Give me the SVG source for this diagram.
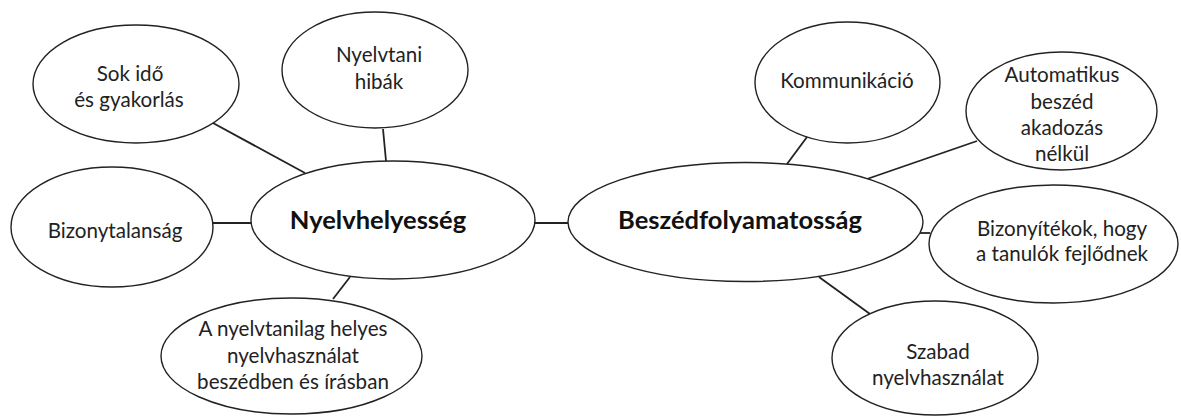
<svg xmlns="http://www.w3.org/2000/svg" width="1181" height="416" viewBox="0 0 1181 416">
  <style>
    .node { fill: #ffffff; stroke: #222222; stroke-width: 1.4; }
    .edge { stroke: #222222; stroke-width: 1.8; fill: none; }
    .lbl { font-family: Lato, "Open Sans", "Liberation Sans", sans-serif; font-size: 20.6px; fill: #222222; text-anchor: middle; }
    .main { font-family: Lato, "Open Sans", "Liberation Sans", sans-serif; font-size: 25.5px; font-weight: bold; fill: #111111; text-anchor: middle; }
  </style>
  <rect width="1181" height="416" fill="#ffffff"/>
  <g id="connectors">
    <line class="edge" x1="213" y1="123" x2="305" y2="173"/>
    <line class="edge" x1="383" y1="129" x2="386" y2="161"/>
    <line class="edge" x1="213" y1="223" x2="251" y2="223"/>
    <line class="edge" x1="350" y1="277" x2="333" y2="299"/>
    <line class="edge" x1="535" y1="223" x2="568" y2="223"/>
    <line class="edge" x1="807" y1="137" x2="787" y2="164"/>
    <line class="edge" x1="977" y1="141" x2="867" y2="179"/>
    <line class="edge" x1="919" y1="233" x2="930" y2="233"/>
    <line class="edge" x1="819" y1="277" x2="870" y2="314"/>
  </g>
  <g id="sok-ido">
    <ellipse class="node" cx="136" cy="84" rx="103" ry="59"/>
    <text class="lbl" x="130" y="81">Sok idő</text>
    <text class="lbl" x="129" y="107">és gyakorlás</text>
  </g>
  <g id="nyelvtani-hibak">
    <ellipse class="node" cx="375" cy="70" rx="93" ry="58"/>
    <text class="lbl" x="379" y="62">Nyelvtani</text>
    <text class="lbl" x="379" y="89">hibák</text>
  </g>
  <g id="bizonytalansag">
    <ellipse class="node" cx="112" cy="227" rx="101" ry="60"/>
    <text class="lbl" x="115" y="238">Bizonytalanság</text>
  </g>
  <g id="nyelvhelyesseg">
    <ellipse class="node" cx="393" cy="220" rx="142" ry="59"/>
    <text class="main" x="378" y="229">Nyelvhelyesség</text>
  </g>
  <g id="nyelvtanilag-helyes">
    <ellipse class="node" cx="291.5" cy="356" rx="130.5" ry="58"/>
    <text class="lbl" x="293" y="336">A nyelvtanilag helyes</text>
    <text class="lbl" x="293" y="363">nyelvhasználat</text>
    <text class="lbl" x="293" y="389">beszédben és írásban</text>
  </g>
  <g id="beszedfolyamatossag">
    <ellipse class="node" cx="745.5" cy="222" rx="177.5" ry="59.5"/>
    <text class="main" x="740" y="229">Beszédfolyamatosság</text>
  </g>
  <g id="kommunikacio">
    <ellipse class="node" cx="847.5" cy="82.5" rx="92.5" ry="60.5"/>
    <text class="lbl" x="847" y="88">Kommunikáció</text>
  </g>
  <g id="automatikus-beszed">
    <ellipse class="node" cx="1061.5" cy="111" rx="95.5" ry="59"/>
    <text class="lbl" x="1062" y="82">Automatikus</text>
    <text class="lbl" x="1062" y="109">beszéd</text>
    <text class="lbl" x="1062" y="135">akadozás</text>
    <text class="lbl" x="1062" y="161">nélkül</text>
  </g>
  <g id="bizonyitekok">
    <ellipse class="node" cx="1053.5" cy="244" rx="124.5" ry="59"/>
    <text class="lbl" x="1062" y="236">Bizonyítékok, hogy</text>
    <text class="lbl" x="1062" y="261">a tanulók fejlődnek</text>
  </g>
  <g id="szabad-nyelvhasznalat">
    <ellipse class="node" cx="935" cy="358" rx="103" ry="57"/>
    <text class="lbl" x="938" y="359">Szabad</text>
    <text class="lbl" x="938" y="385">nyelvhasználat</text>
  </g>
</svg>
